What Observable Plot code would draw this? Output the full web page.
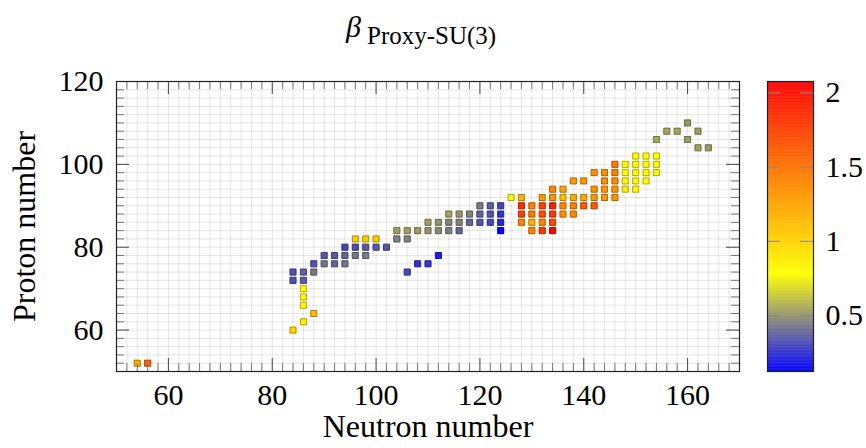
<!DOCTYPE html>
<html><head><meta charset="utf-8">
<script src="https://cdn.jsdelivr.net/npm/d3@7"></script>
<script src="https://cdn.jsdelivr.net/npm/@observablehq/plot@0.6"></script>
<style>
body{margin:0;background:#fff;}
#wrap{position:relative;width:866px;height:448px;overflow:hidden;}
#wrap svg{position:absolute;top:0;overflow:visible;}
#wrap svg text{font-family:'Liberation Serif','DejaVu Serif',serif;}
</style></head><body><div id="wrap"></div>
<script>
// Neutron number, proton number and beta (Proxy-SU(3)) of each nucleus
const neutrons = [
  54, 56,
  84, 86, 88, 86, 86, 86,
  84, 86,
  84, 86, 88, 106,
  88, 90, 92, 94, 108, 110,
  90, 92, 94, 96, 98, 112,
  94, 96, 98, 100, 102,
  96, 98, 100, 104, 106,
  104, 106, 108, 110, 112, 114, 116, 124, 130, 132, 134,
  110, 112, 114, 116, 118, 120, 122, 124, 128, 130, 132, 134,
  114, 116, 118, 120, 122, 124, 128, 130, 132, 134, 136, 138,
  120, 122, 124, 128, 130, 132, 134, 136, 138, 140, 142,
  126, 128, 132, 134, 136, 138, 140, 142, 144, 146,
  134, 136, 142, 144, 146, 148, 150,
  138, 140, 144, 146, 148, 150, 152,
  142, 144, 146, 148, 150, 152, 154,
  146, 148, 150, 152, 154,
  150, 152, 154,
  162, 164,
  154, 160,
  156, 158, 162,
  160
];
const protons = [
  52, 52,
  60, 62, 64, 66, 68, 70,
  72, 72,
  74, 74, 74, 74,
  76, 76, 76, 76, 76, 76,
  78, 78, 78, 78, 78, 78,
  80, 80, 80, 80, 80,
  82, 82, 82, 82, 82,
  84, 84, 84, 84, 84, 84, 84, 84, 84, 84, 84,
  86, 86, 86, 86, 86, 86, 86, 86, 86, 86, 86, 86,
  88, 88, 88, 88, 88, 88, 88, 88, 88, 88, 88, 88,
  90, 90, 90, 90, 90, 90, 90, 90, 90, 90, 90,
  92, 92, 92, 92, 92, 92, 92, 92, 92, 92,
  94, 94, 94, 94, 94, 94, 94,
  96, 96, 96, 96, 96, 96, 96,
  98, 98, 98, 98, 98, 98, 98,
  100, 100, 100, 100, 100,
  102, 102, 102,
  104, 104,
  106, 106,
  108, 108, 108,
  110
];
const beta = [
  1.20, 1.57,
  1.00, 0.86, 1.12, 0.82, 0.80, 0.80,
  0.33, 0.36,
  0.33, 0.37, 0.43, 0.30,
  0.34, 0.42, 0.38, 0.42, 0.25, 0.26,
  0.35, 0.35, 0.38, 0.42, 0.43, 0.20,
  0.30, 0.32, 0.35, 0.35, 0.34,
  1.05, 1.05, 1.05, 0.45, 0.45,
  0.53, 0.53, 0.52, 0.50, 0.47, 0.44, 0.38, 0.123, 1.40, 1.80, 2.076,
  0.53, 0.50, 0.46, 0.45, 0.38, 0.34, 0.30, 0.22, 1.40, 1.15, 1.40, 1.70,
  0.53, 0.50, 0.45, 0.37, 0.33, 0.25, 1.75, 1.45, 1.70, 1.78, 1.35, 1.38,
  0.43, 0.36, 0.30, 1.85, 1.42, 1.75, 1.92, 1.38, 1.42, 1.62, 1.62,
  0.82, 1.15, 1.30, 1.32, 1.12, 1.20, 1.22, 1.30, 1.32, 1.32,
  1.40, 1.25, 1.35, 1.32, 1.32, 0.86, 0.82,
  1.30, 1.30, 1.35, 1.38, 0.82, 0.82, 0.80,
  1.35, 1.35, 1.42, 0.80, 0.80, 0.80, 0.80,
  1.45, 0.80, 0.80, 0.80, 0.80,
  0.80, 0.80, 0.80,
  0.53, 0.52,
  0.55, 0.52,
  0.54, 0.54, 0.52,
  0.51
];
const xTicks = [60, 80, 100, 120, 140, 160];
const yTicks = [60, 80, 100, 120];
const colorbarTicks = [0.5, 1, 1.5, 2];
const colorStops = [0.123, 0.4485, 0.774, 2.076];
const colorRange = ["#0000ff", "#808080", "#ffff00", "#ff0000"];

const data = neutrons.map((n, i) => ({N: n, Z: protons[i], beta: beta[i]}));
const xMinor = d3.range(52, 170, 2);
const yMinor = d3.range(52, 120, 2);
const font = "'Liberation Serif', 'DejaVu Serif', serif";

const W = 866, H = 448, mL = 116, mR = 127, mT = 81, mB = 77;
const fw = W - mL - mR, fh = H - mT - mB;
const colorScale = {type: "linear", domain: colorStops, range: colorRange, interpolate: "rgb"};
const txt = {fontFamily: font, textAnchor: "middle", lineAnchor: "middle"};

const main = Plot.plot({
  width: W, height: H, marginLeft: mL, marginRight: mR, marginTop: mT, marginBottom: mB,
  style: {fontFamily: font, background: "#fff", color: "#000"},
  x: {domain: [50, 170]},
  y: {domain: [50, 120]},
  color: colorScale,
  marks: [
    Plot.gridX(xMinor, {stroke: "#000", strokeOpacity: 0.1}),
    Plot.gridY(yMinor, {stroke: "#000", strokeOpacity: 0.1}),
    Plot.dot(data, {x: "N", y: "Z", fill: "beta", stroke: "beta", symbol: "square", r: 3.4, strokeWidth: 1}),
    Plot.dot(data, {x: "N", y: "Z", fill: "none", stroke: "#000", strokeOpacity: 0.3, symbol: "square", r: 3.4, strokeWidth: 1}),
    // minor ticks (inward, all four sides)
    Plot.tickX(xMinor.filter(v => !xTicks.includes(v)), {x: d => d, insetTop: fh - 8, stroke: "#777"}),
    Plot.tickX(xMinor.filter(v => !xTicks.includes(v)), {x: d => d, insetBottom: fh - 8, stroke: "#777"}),
    Plot.tickY(yMinor.filter(v => !yTicks.includes(v)), {y: d => d, insetRight: fw - 8, stroke: "#777"}),
    Plot.tickY(yMinor.filter(v => !yTicks.includes(v)), {y: d => d, insetLeft: fw - 8, stroke: "#777"}),
    // major ticks
    Plot.tickX(xTicks, {x: d => d, insetTop: fh - 13, stroke: "#444"}),
    Plot.tickX(xTicks, {x: d => d, insetBottom: fh - 13, stroke: "#444"}),
    Plot.tickY(yTicks, {y: d => d, insetRight: fw - 13, stroke: "#444"}),
    Plot.tickY(yTicks, {y: d => d, insetLeft: fw - 13, stroke: "#444"}),
    Plot.frame({stroke: "#222", strokeWidth: 1.2}),
    Plot.axisX(xTicks, {tickSize: 0, tickPadding: 12, fontSize: 30, label: null}),
    Plot.axisY(yTicks, {tickSize: 0, tickPadding: 13, fontSize: 30, label: null}),
    Plot.text(["Neutron number"], {...txt, text: d => d, frameAnchor: "bottom", dy: 55, fontSize: 32}),
    Plot.text(["Proton number"], {...txt, text: d => d, frameAnchor: "left", rotate: -90, dx: -92, fontSize: 32}),
    Plot.text(["β"], {...txt, textAnchor: "start", text: d => d, frameAnchor: "top", dx: -82, dy: -54, fontSize: 30, fontStyle: "italic"}),
    Plot.text(["Proxy-SU(3)"], {...txt, textAnchor: "start", text: d => d, frameAnchor: "top", dx: -61, dy: -46, fontSize: 25})
  ]
});

// Colorbar
const cbStep = 0.004;
const cbValues = d3.range(colorStops[0], colorStops[colorStops.length - 1], cbStep);
const cbW = 46;
const bar = Plot.plot({
  width: 109, height: H, marginLeft: 10, marginRight: 53, marginTop: mT, marginBottom: mB,
  style: {fontFamily: font, background: "transparent", color: "#000"},
  x: {domain: [0, 1], axis: null},
  y: {domain: [colorStops[0], colorStops[colorStops.length - 1]]},
  color: colorScale,
  marks: [
    Plot.rect(cbValues, {x1: () => 0, x2: () => 1, y1: d => d, y2: d => Math.min(d + cbStep * 1.6, colorStops[3]), fill: d => d}),
    Plot.tickY(colorbarTicks, {y: d => d, insetRight: cbW - 13, stroke: "#888"}),
    Plot.tickY(colorbarTicks, {y: d => d, insetLeft: cbW - 13, stroke: "#888"}),
    Plot.frame({stroke: "#222", strokeWidth: 1.2}),
    Plot.axisY(colorbarTicks, {anchor: "right", tickSize: 0, tickPadding: 12, fontSize: 30, label: null, tickFormat: d => String(d)})
  ]
});
bar.style.left = "757px";
main.style.left = "0px";
const wrap = document.getElementById("wrap");
wrap.appendChild(main);
wrap.appendChild(bar);
</script>
</body></html>
